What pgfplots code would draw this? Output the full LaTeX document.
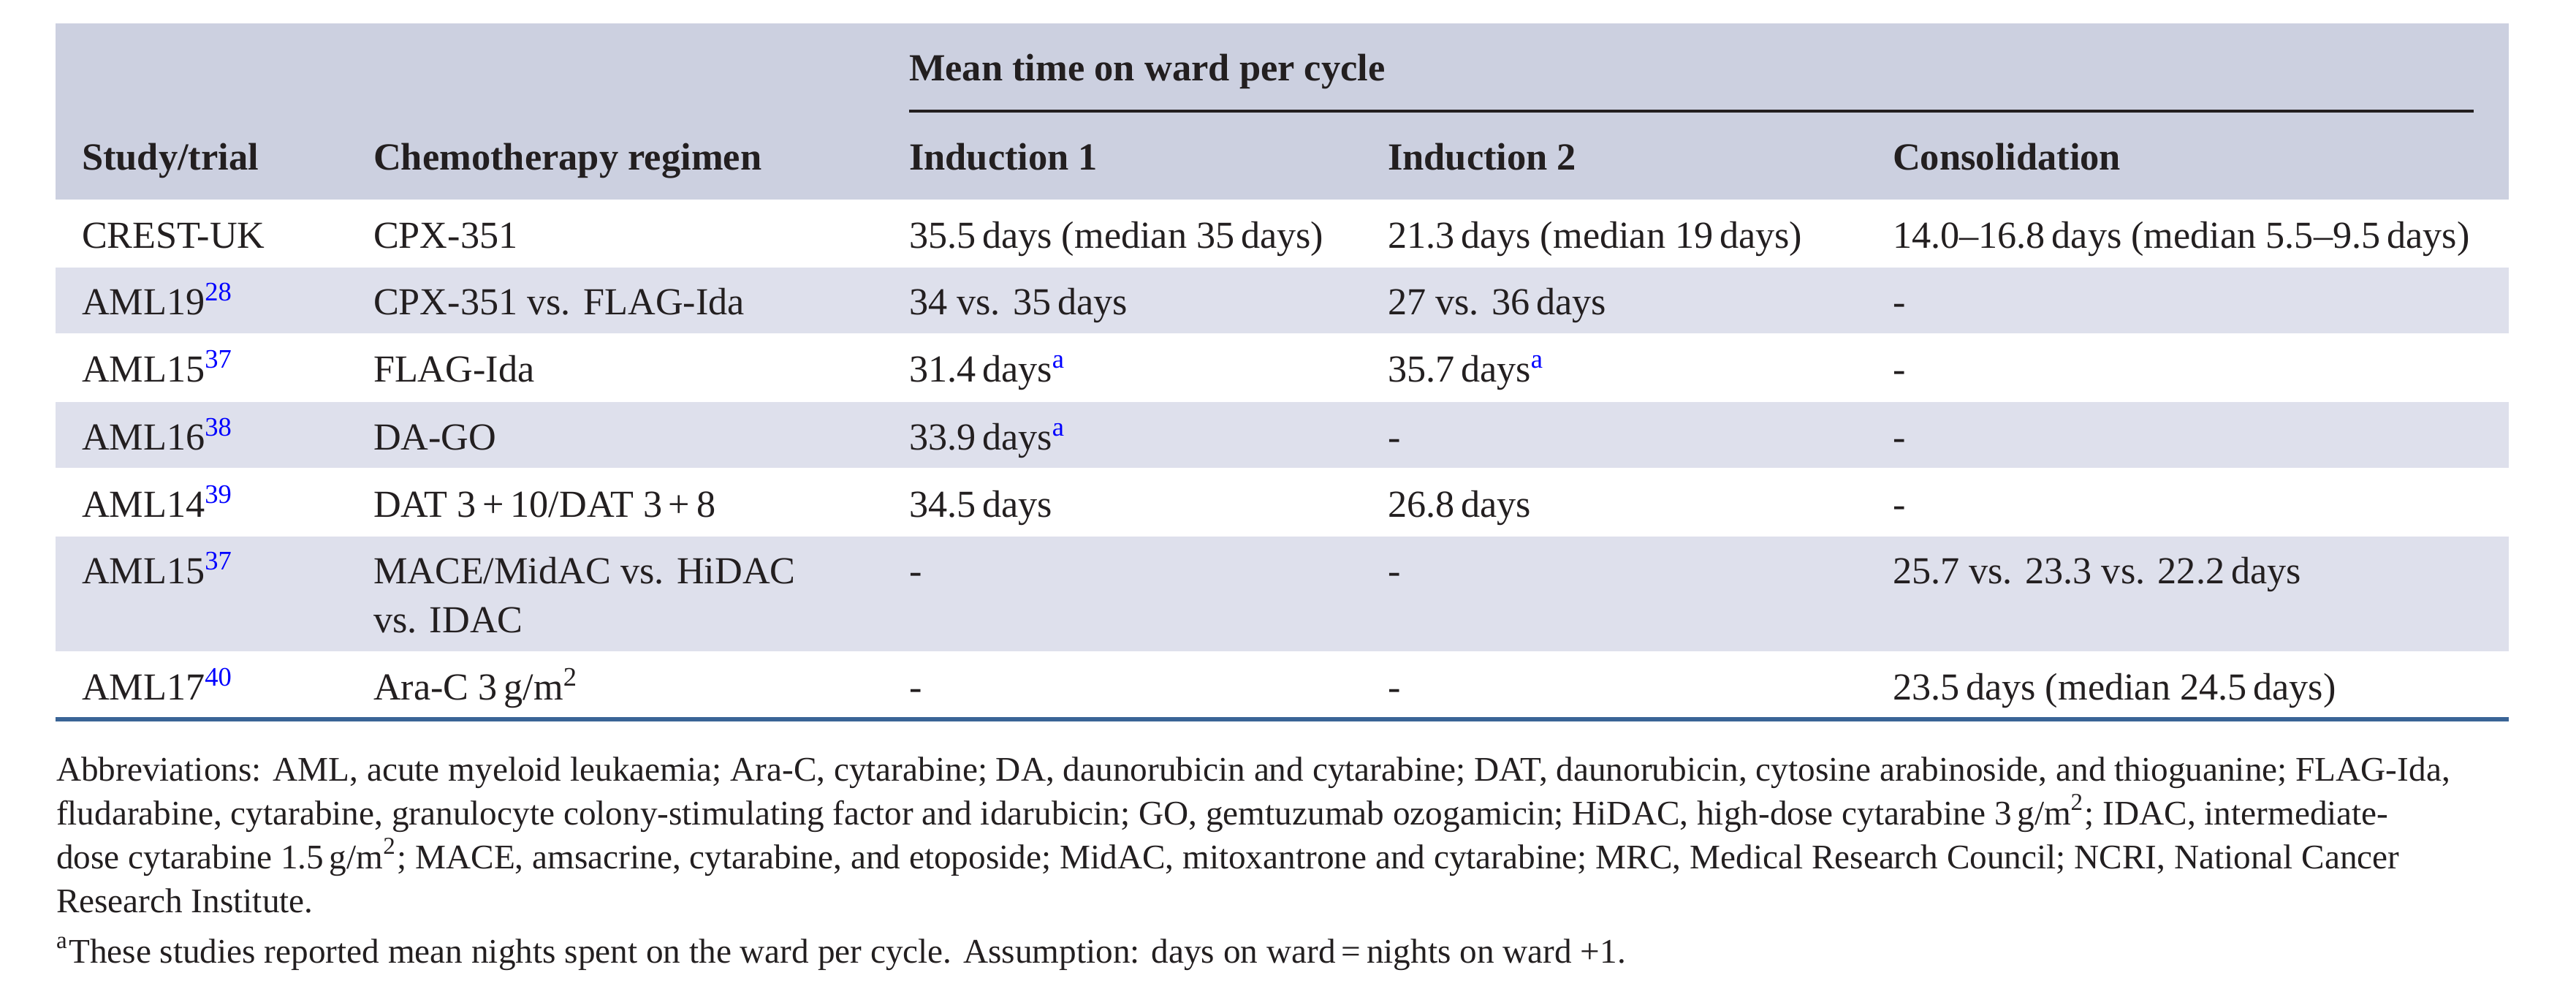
\documentclass[border=0pt]{standalone}
\usepackage{fontspec}
\setmainfont{Liberation Serif}
\usepackage{pgfplots}
\pgfplotsset{compat=1.18}
\definecolor{hdr}{HTML}{CCD0E0}
\definecolor{stripe}{HTML}{DEE0EC}
\definecolor{rulebl}{HTML}{3A6496}
\definecolor{txt}{HTML}{231F20}
\definecolor{lnk}{HTML}{0000FF}
\newcommand{\rf}[1]{\textsuperscript{\textcolor{lnk}{#1}}}
\begin{document}
\begin{tikzpicture}
\begin{axis}[
  scale only axis, width=705pt, height=270.6pt,
  xmin=0, xmax=3525, ymin=0, ymax=1353, y dir=reverse,
  hide axis, clip=false,
]
\addplot[draw=none, forget plot] coordinates {(0,0) (3525,1353)};
% bands
\fill[hdr] (axis cs:76,32) rectangle (axis cs:3433,273);
\fill[stripe] (axis cs:76,366) rectangle (axis cs:3433,456);
\fill[stripe] (axis cs:76,550) rectangle (axis cs:3433,640);
\fill[stripe] (axis cs:76,734) rectangle (axis cs:3433,891);
\fill[rulebl] (axis cs:76,981) rectangle (axis cs:3433,987);
\fill[txt] (axis cs:1244,150) rectangle (axis cs:3385,154);
% header
\begin{scope}[every node/.append style={anchor=base west, inner sep=0pt, outer sep=0pt, text=txt, font=\fontsize{10.5}{12}\selectfont\bfseries}]
\node at (axis cs:1244,110) {Mean time on ward per cycle};
\node at (axis cs:112,232) {Study/trial};
\node at (axis cs:511,232) {Chemotherapy regimen};
\node at (axis cs:1244,232) {Induction 1};
\node at (axis cs:1899,232) {Induction 2};
\node at (axis cs:2590,232) {Consolidation};
\end{scope}
\begin{scope}[every node/.append style={anchor=base west, inner sep=0pt, outer sep=0pt, text=txt, font=\fontsize{10.45}{12}\selectfont}]
% row 1
\node at (axis cs:112,339) {CREST-UK};
\node at (axis cs:511,339) {CPX-351};
\node at (axis cs:1244,339) {35.5\,days (median 35\,days)};
\node at (axis cs:1899,339) {21.3\,days (median 19\,days)};
\node at (axis cs:2590,339) {14.0–16.8\,days (median 5.5–9.5\,days)};
% row 2
\node at (axis cs:112,430) {AML19\rf{28}};
\node at (axis cs:511,430) {CPX-351 vs. FLAG-Ida};
\node at (axis cs:1244,430) {34 vs. 35\,days};
\node at (axis cs:1899,430) {27 vs. 36\,days};
\node at (axis cs:2590,430) {-};
% row 3
\node at (axis cs:112,522) {AML15\rf{37}};
\node at (axis cs:511,522) {FLAG-Ida};
\node at (axis cs:1244,522) {31.4\,days\rf{a}};
\node at (axis cs:1899,522) {35.7\,days\rf{a}};
\node at (axis cs:2590,522) {-};
% row 4
\node at (axis cs:112,615) {AML16\rf{38}};
\node at (axis cs:511,615) {DA-GO};
\node at (axis cs:1244,615) {33.9\,days\rf{a}};
\node at (axis cs:1899,615) {-};
\node at (axis cs:2590,615) {-};
% row 5
\node at (axis cs:112,707) {AML14\rf{39}};
\node at (axis cs:511,707) {DAT 3\,+\,10/DAT 3\,+\,8};
\node at (axis cs:1244,707) {34.5\,days};
\node at (axis cs:1899,707) {26.8\,days};
\node at (axis cs:2590,707) {-};
% row 6
\node at (axis cs:112,798) {AML15\rf{37}};
\node at (axis cs:511,798) {MACE/MidAC vs. HiDAC};
\node at (axis cs:511,865) {vs. IDAC};
\node at (axis cs:1244,798) {-};
\node at (axis cs:1899,798) {-};
\node at (axis cs:2590,798) {25.7 vs. 23.3 vs. 22.2\,days};
% row 7
\node at (axis cs:112,957) {AML17\rf{40}};
\node at (axis cs:511,957) {Ara-C 3\,g/m\textsuperscript{2}};
\node at (axis cs:1244,957) {-};
\node at (axis cs:1899,957) {-};
\node at (axis cs:2590,957) {23.5\,days (median 24.5\,days)};
\end{scope}
% footnotes
\begin{scope}[every node/.append style={anchor=base west, inner sep=0pt, outer sep=0pt, text=txt, font=\fontsize{9.45}{11}\selectfont}]
\node at (axis cs:77,1068) {Abbreviations: AML, acute myeloid leukaemia; Ara-C, cytarabine; DA, daunorubicin and cytarabine; DAT, daunorubicin, cytosine arabinoside, and thioguanine; FLAG-Ida,};
\node at (axis cs:77,1128) {fludarabine, cytarabine, granulocyte colony-stimulating factor and idarubicin; GO, gemtuzumab ozogamicin; HiDAC, high-dose cytarabine 3\,g/m\textsuperscript{2}; IDAC, intermediate-};
\node at (axis cs:77,1188) {dose cytarabine 1.5\,g/m\textsuperscript{2}; MACE, amsacrine, cytarabine, and etoposide; MidAC, mitoxantrone and cytarabine; MRC, Medical Research Council; NCRI, National Cancer};
\node at (axis cs:77,1248) {Research Institute.};
\node at (axis cs:77,1317) {\textsuperscript{a}These studies reported mean nights spent on the ward per cycle. Assumption: days on ward\,=\,nights on ward +1.};
\end{scope}
\end{axis}
\end{tikzpicture}
\end{document}
